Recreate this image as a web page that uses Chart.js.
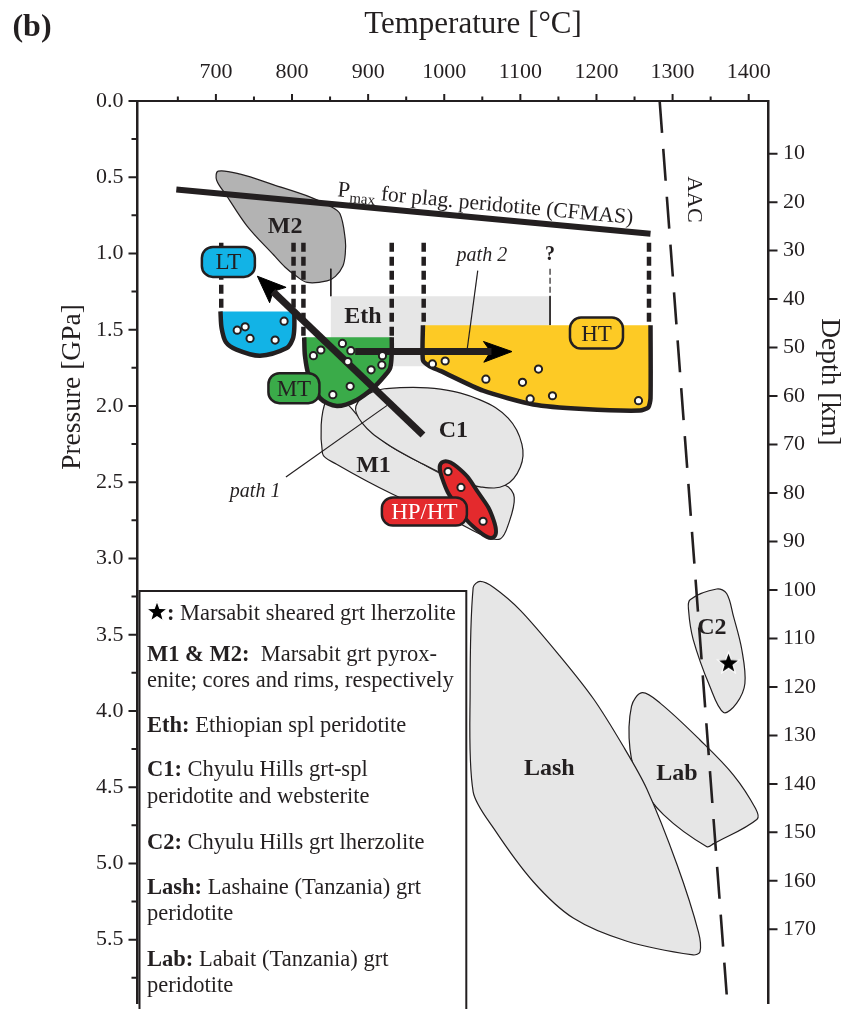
<!DOCTYPE html>
<html>
<head>
<meta charset="utf-8">
<script src="https://cdn.jsdelivr.net/npm/chart.js@4.4.1/dist/chart.umd.min.js"></script>
<style>
html, body { margin: 0; padding: 0; background: #fff; }
canvas { display: block; }
</style>
</head>
<body>
<canvas id="pt" width="847" height="1009"></canvas>
<script>
// axis ticks
const tempTicks = [700, 800, 900, 1000, 1100, 1200, 1300, 1400];
const tempMinor = [650, 750, 850, 950, 1050, 1150, 1250, 1350];
const pressureTicks = [0, 0.5, 1, 1.5, 2, 2.5, 3, 3.5, 4, 4.5, 5, 5.5];
const pressureMinor = [0.25, 0.75, 1.25, 1.75, 2.25, 2.75, 3.25, 3.75, 4.25, 4.75, 5.25, 5.75];
const depthTicks = [10, 20, 30, 40, 50, 60, 70, 80, 90, 100, 110, 120, 130, 140, 150, 160, 170];

// fields, [T degC, P GPa]
const m2Field = [[703,0.46],[732,0.48],[776,0.55],[824,0.63],[850,0.69],[863,0.74],[870,0.91],[870,1.00],[867,1.08],[857,1.15],[846,1.18],[820,1.19],[806,1.15],[791,1.09],[776,1.01],[741,0.82],[714,0.62],[701,0.52]];
const ethField = [[851,1.28],[1139,1.28],[1139,1.74],[851,1.74]];
const ltField = [[706,1.38],[707.5,1.49],[713,1.58],[727,1.63],[758,1.67],[793,1.62],[801,1.56],[803,1.49],[803,1.38]];
const mtField = [[816,1.55],[817,1.67],[822,1.80],[837,1.95],[859,2.00],[885,1.96],[907,1.88],[922,1.80],[929,1.75],[931,1.65],[931,1.55]];
const htField = [[972,1.47],[972,1.70],[981,1.74],[995,1.77],[1051,1.90],[1117,1.99],[1183,2.02],[1257,2.03],[1268,2.01],[1271,1.95],[1271,1.47]];
const c1Field = [[884,2.00],[905,1.91],[942,1.88],[995,1.89],[1047,1.96],[1084,2.08],[1102,2.25],[1100,2.40],[1080,2.52],[1047,2.53],[1014,2.48],[968,2.37],[922,2.24],[892,2.11]];
const m1Field = [[845,1.96],[840,2.31],[858,2.38],[933,2.58],[1008,2.74],[1056,2.86],[1074,2.87],[1084,2.78],[1092,2.60],[1080,2.52],[1014,2.48],[968,2.37],[922,2.24],[889,2.08],[870,1.98]];
const hpField = [[1065,2.86],[1045,2.82],[1017,2.66],[997,2.47],[997,2.37],[1017,2.40],[1045,2.57],[1065,2.75]];
const lashField = [[1047,3.15],[1038,3.19],[1034,3.86],[1038,4.53],[1065,4.77],[1117,5.12],[1170,5.36],[1240,5.51],[1327,5.60],[1336,5.58],[1334,5.45],[1306,5.01],[1266,4.51],[1235,4.23],[1196,3.92],[1152,3.64],[1100,3.34],[1065,3.19]];
const labField = [[1260,3.88],[1246,3.97],[1244,4.25],[1257,4.47],[1288,4.68],[1345,4.89],[1354,4.87],[1411,4.71],[1409,4.64],[1380,4.42],[1336,4.19],[1284,3.95]];
const c2Field = [[1358,3.20],[1323,3.27],[1321,3.34],[1327,3.53],[1349,3.84],[1367,4.01],[1384,3.95],[1395,3.82],[1391,3.60],[1380,3.38],[1371,3.23]];

// lines
const pmaxLine = [[648,0.58],[1271,0.87]];
const aacLine = [[1283,0],[1372,5.92]];
const ltLimits = [[[707,0.93],[707,1.38]], [[802,0.93],[802,1.38]]];
const mtLimits = [[[815,0.93],[815,1.55]], [[931,0.93],[931,1.55]]];
const htLimits = [[[973,0.93],[973,1.47]], [[1269,0.93],[1269,1.47]]];
const ethEdge = [[851,1.10],[851,1.28]];
const ethQuery = [[1139,1.10],[1139,1.28]];
const ethQueryLow = [[1139,1.28],[1139,1.47]];
const path1Shaft = [[972,2.19],[775,1.25]];
const path1Head = [[754.5,1.149],[770.6,1.323],[775.2,1.248],[792.2,1.222]];
const path2Shaft = [[883,1.643],[1062,1.643]];
const path2Head = [[1089,1.643],[1052,1.713],[1061,1.643],[1051.5,1.577]];
const path1Leader = [[792,2.465],[925,1.996]];
const path2Leader = [[1044,1.112],[1030,1.633]];

// samples
const ltSamples = [[728,1.503],[738.4,1.481],[744.9,1.557],[777.8,1.568],[789.6,1.444]];
const mtSamples = [[866.2,1.590],[877.3,1.637],[837.9,1.633],[828.1,1.670],[873.3,1.709],[918.8,1.670],[918,1.731],[903.9,1.763],[876.4,1.871],[853.6,1.926]];
const htSamples = [[984.5,1.724],[1001.2,1.705],[1054.7,1.824],[1102.8,1.845],[1123.8,1.758],[1112.9,1.954],[1142.2,1.933],[1255.2,1.965]];
const hpSamples = [[1005,2.43],[1022,2.534],[1051,2.756]];
const shearedSample = [[1373.5,3.681]];

const INK = '#231f20';
const SERIF = "'Liberation Serif', 'Times New Roman', serif";
const LIGHT = '#e6e6e6';
const BLUE = '#12b3e6';
const GREEN = '#3aab49';
const YELLOW = '#fdca25';
const RED = '#e42a2d';

function xy(arr) {
    return arr.map(p => ({x: p[0], y: p[1]}));
}

function line(arr, opts) {
    return Object.assign({
        data: xy(arr), showLine: true, fill: false, pointRadius: 0,
        borderColor: INK, borderWidth: 1.2, tension: 0, borderJoinStyle: 'round'
    }, opts);
}

function field(arr, color, opts) {
    return line(arr, Object.assign({fill: 'shape', backgroundColor: color, closed: true, tension: 0.35}, opts));
}

function samples(arr, order) {
    return {
        data: xy(arr), showLine: false, pointRadius: 3.6, pointBorderWidth: 2,
        pointBackgroundColor: '#fff', pointBorderColor: INK, order: order
    };
}

function starImage(r) {
    const c = document.createElement('canvas');
    const s = Math.ceil(r * 2 + 4);
    c.width = s; c.height = s;
    const g = c.getContext('2d');
    g.translate(s / 2, s / 2 + r * 0.1);
    g.beginPath();
    for (let i = 0; i < 10; i++) {
        const a = -Math.PI / 2 + i * Math.PI / 5;
        const rr = i % 2 ? r * 0.42 : r;
        g.lineTo(rr * Math.cos(a), rr * Math.sin(a));
    }
    g.closePath();
    g.fillStyle = '#000';
    g.fill();
    g.lineWidth = 1.2;
    g.strokeStyle = '#fff';
    g.stroke();
    return c;
}
const STAR = starImage(11.5);
const LEGEND_STAR = starImage(11);

const datasets = [
    field(ethField, LIGHT, {borderWidth: 0, tension: 0, order: 20}),
    field(lashField, LIGHT, {order: 19, tension: 0.3}),
    field(labField, LIGHT, {order: 19}),
    field(c2Field, LIGHT, {order: 19}),
    field(m1Field, LIGHT, {order: 18}),
    field(c1Field, LIGHT, {order: 17, tension: 0.4}),
    field(m2Field, '#b3b3b3', {order: 16}),
    line(pmaxLine, {borderWidth: 6, order: 15}),
    line(ethEdge, {borderWidth: 1, order: 14}),
    line(ethQuery, {borderWidth: 1.2, borderDash: [6, 3], order: 14}),
    line(ethQueryLow, {borderWidth: 1, order: 14}),
    ...ltLimits.concat(mtLimits, htLimits).map(l => line(l, {borderWidth: 4.5, borderDash: [9, 5], order: 13})),
    line(aacLine, {borderWidth: 2.6, borderDash: [32, 16], order: 12}),
    field(ltField, BLUE, {closed: false, borderWidth: 4.5, tension: 0.3, order: 11}),
    field(mtField, GREEN, {closed: false, borderWidth: 4.5, tension: 0.3, order: 11}),
    field(htField, YELLOW, {closed: false, borderWidth: 4.5, tension: 0.2, order: 11}),
    line(path1Leader, {borderWidth: 1.2, order: 10}),
    line(path2Leader, {borderWidth: 1.2, order: 10}),
    line(path1Shaft, {borderWidth: 7, order: 9}),
    line(path2Shaft, {borderWidth: 7, order: 9}),
    field(path1Head, '#000', {borderColor: '#000', borderWidth: 1, tension: 0, order: 9}),
    field(path2Head, '#000', {borderColor: '#000', borderWidth: 1, tension: 0, order: 9}),
    field(hpField, RED, {borderWidth: 4, tension: 0.5, order: 8}),
    samples(ltSamples, 7),
    samples(mtSamples, 7),
    samples(htSamples, 7),
    samples(hpSamples, 7),
    {data: xy(shearedSample), showLine: false, pointStyle: STAR, order: 6}
];

// closed outlines are drawn as loops so the curve has no seam
const loopPlugin = {
    id: 'loop',
    afterDatasetUpdate(chart, args) {
        const ds = chart.data.datasets[args.index];
        if (ds.closed && args.meta.dataset) {
            args.meta.dataset._loop = true;
            args.meta.dataset._fullLoop = true;
        }
    }
};

const fieldLabels = [
    {text: 'M2', x: 791, y: 0.814, font: 'bold 24px'},
    {text: 'Eth', x: 893, y: 1.405, font: 'bold 24px'},
    {text: 'C1', x: 1012, y: 2.154, font: 'bold 24px'},
    {text: 'M1', x: 907, y: 2.382, font: 'bold 24px'},
    {text: 'Lash', x: 1138, y: 4.369, font: 'bold 24px'},
    {text: 'Lab', x: 1305.6, y: 4.402, font: 'bold 24px'},
    {text: 'C2', x: 1351.7, y: 3.446, font: 'bold 24px'},
    {text: 'path 1', x: 751.5, y: 2.554, font: 'italic 20px'},
    {text: 'path 2', x: 1049.4, y: 1.003, font: 'italic 20px'},
    {text: '?', x: 1139, y: 1.0, font: 'bold 20px'}
];
const tags = [
    {text: 'LT', x: 716.4, y: 1.055, w: 53, h: 30, fill: BLUE, color: INK},
    {text: 'MT', x: 802.5, y: 1.883, w: 51, h: 30, fill: GREEN, color: INK},
    {text: 'HT', x: 1200, y: 1.522, w: 53, h: 31, fill: YELLOW, color: INK},
    {text: 'HP/HT', x: 973.9, y: 2.692, w: 85, h: 28, fill: RED, color: '#fff'}
];
const legendRows = [
    {y: 612, parts: [['star'], ['b', ': '], ['r', 'Marsabit sheared grt lherzolite']]},
    {y: 653, parts: [['b', 'M1 & M2:  '], ['r', 'Marsabit grt pyrox-']]},
    {y: 679, parts: [['r', 'enite; cores and rims, respectively']]},
    {y: 724, parts: [['b', 'Eth: '], ['r', 'Ethiopian spl peridotite']]},
    {y: 768, parts: [['b', 'C1: '], ['r', 'Chyulu Hills grt-spl']]},
    {y: 795, parts: [['r', 'peridotite and websterite']]},
    {y: 841, parts: [['b', 'C2: '], ['r', 'Chyulu Hills grt lherzolite']]},
    {y: 886, parts: [['b', 'Lash: '], ['r', 'Lashaine (Tanzania) grt']]},
    {y: 912, parts: [['r', 'peridotite']]},
    {y: 958, parts: [['b', 'Lab: '], ['r', 'Labait (Tanzania) grt']]},
    {y: 984, parts: [['r', 'peridotite']]}
];

function roundRect(ctx, x, y, w, h, r) {
    ctx.beginPath();
    ctx.moveTo(x + r, y);
    ctx.arcTo(x + w, y, x + w, y + h, r);
    ctx.arcTo(x + w, y + h, x, y + h, r);
    ctx.arcTo(x, y + h, x, y, r);
    ctx.arcTo(x, y, x + w, y, r);
    ctx.closePath();
}

function centred(ctx, text, x, y, size) {
    ctx.textAlign = 'center';
    ctx.textBaseline = 'alphabetic';
    ctx.fillText(text, x, y + size * 0.33);
}

const decor = {
    id: 'decor',
    afterDatasetsDraw(chart) {
        const ctx = chart.ctx;
        const X = v => chart.scales.x.getPixelForValue(v);
        const Y = v => chart.scales.y.getPixelForValue(v);
        ctx.save();
        ctx.fillStyle = INK;

        // Pmax label along the line
        const a = pmaxLine[0], b = pmaxLine[1];
        const ang = Math.atan2(Y(b[1]) - Y(a[1]), X(b[0]) - X(a[0]));
        ctx.save();
        ctx.translate(X(859), Y(0.625));
        ctx.rotate(ang);
        ctx.textAlign = 'left';
        ctx.textBaseline = 'alphabetic';
        ctx.font = '22.5px ' + SERIF;
        ctx.fillText('P', 0, 0);
        let w = ctx.measureText('P').width;
        ctx.font = '15px ' + SERIF;
        ctx.fillText('max', w, 5);
        w += ctx.measureText('max').width;
        ctx.font = '21.5px ' + SERIF;
        ctx.fillText(' for plag. peridotite (CFMAS)', w, 0);
        ctx.restore();

        // AAC
        ctx.save();
        ctx.translate(X(1329.7), Y(0.645));
        ctx.rotate(Math.PI / 2);
        ctx.font = '22px ' + SERIF;
        centred(ctx, 'AAC', 0, 0, 22);
        ctx.restore();

        fieldLabels.forEach(l => {
            ctx.font = l.font + ' ' + SERIF;
            centred(ctx, l.text, X(l.x), Y(l.y), parseFloat(l.font.split(' ')[1]));
        });

        tags.forEach(t => {
            const cx = X(t.x), cy = Y(t.y);
            roundRect(ctx, cx - t.w / 2, cy - t.h / 2, t.w, t.h, 11);
            ctx.fillStyle = t.fill;
            ctx.fill();
            ctx.lineWidth = 2.5;
            ctx.strokeStyle = INK;
            ctx.stroke();
            ctx.fillStyle = t.color;
            ctx.font = '23px ' + SERIF;
            centred(ctx, t.text, cx, cy, 23);
        });
        ctx.restore();
    },
    afterDraw(chart) {
        const ctx = chart.ctx;
        const area = chart.chartArea;
        const sx = chart.scales.x, sy = chart.scales.y, sd = chart.scales.y2;
        ctx.save();
        ctx.strokeStyle = INK;
        ctx.fillStyle = INK;
        ctx.lineWidth = 2;

        // tick marks
        ctx.beginPath();
        tempTicks.forEach(v => { const p = sx.getPixelForValue(v); ctx.moveTo(p, area.top); ctx.lineTo(p, area.top - 7); });
        tempMinor.forEach(v => { const p = sx.getPixelForValue(v); ctx.moveTo(p, area.top); ctx.lineTo(p, area.top - 4.5); });
        pressureTicks.forEach(v => { const p = sy.getPixelForValue(v); ctx.moveTo(area.left, p); ctx.lineTo(area.left - 9, p); });
        pressureMinor.forEach(v => { const p = sy.getPixelForValue(v); ctx.moveTo(area.left, p); ctx.lineTo(area.left - 6, p); });
        depthTicks.forEach(v => { const p = sd.getPixelForValue(v); ctx.moveTo(area.right, p); ctx.lineTo(area.right + 9, p); });
        ctx.stroke();

        // titles
        ctx.font = '31px ' + SERIF;
        centred(ctx, 'Temperature [°C]', 473, 23, 31);
        ctx.font = 'bold 32px ' + SERIF;
        centred(ctx, '(b)', 32, 25, 32);
        ctx.save();
        ctx.translate(71, 387);
        ctx.rotate(-Math.PI / 2);
        ctx.font = '27.5px ' + SERIF;
        centred(ctx, 'Pressure [GPa]', 0, 0, 27.5);
        ctx.restore();
        ctx.save();
        ctx.translate(831, 382);
        ctx.rotate(Math.PI / 2);
        ctx.font = '27.5px ' + SERIF;
        centred(ctx, 'Depth [km]', 0, 0, 27.5);
        ctx.restore();

        // legend box
        const left = area.left + 2;
        ctx.fillStyle = '#fff';
        ctx.fillRect(left, 591, 466.3 - left, 430);
        ctx.lineWidth = 2;
        ctx.strokeRect(left, 591, 466.3 - left, 430);
        ctx.fillStyle = INK;
        ctx.textAlign = 'left';
        ctx.textBaseline = 'alphabetic';
        legendRows.forEach(row => {
            let x = 147;
            row.parts.forEach(p => {
                if (p[0] === 'star') {
                    ctx.drawImage(LEGEND_STAR, x - 3, row.y - LEGEND_STAR.height / 2 - 1);
                    x += 20;
                    return;
                }
                ctx.font = (p[0] === 'b' ? 'bold ' : '') + '22.5px ' + SERIF;
                ctx.fillText(p[1], x, row.y + 7.5);
                x += ctx.measureText(p[1]).width;
            });
        });
        ctx.restore();
    }
};

const tickFont = {family: SERIF, size: 22};

new Chart(document.getElementById('pt'), {
    type: 'scatter',
    data: {datasets: datasets},
    options: {
        responsive: false,
        animation: false,
        devicePixelRatio: 1,
        events: [],
        layout: {padding: 0},
        plugins: {legend: {display: false}, tooltip: {enabled: false}},
        scales: {
            x: {
                type: 'linear', position: 'top', min: 597, max: 1426,
                afterBuildTicks: s => { s.ticks = tempTicks.map(v => ({value: v})); },
                afterFit: s => { s.height = 101; s.paddingLeft = 0; s.paddingRight = 0; },
                ticks: {font: tickFont, color: INK, padding: 16, maxRotation: 0, autoSkip: false, callback: v => String(v)},
                grid: {drawOnChartArea: false, drawTicks: false},
                border: {color: INK, width: 2}
            },
            y: {
                type: 'linear', position: 'left', reverse: true, min: 0, max: 5.915,
                afterBuildTicks: s => { s.ticks = pressureTicks.map(v => ({value: v})); },
                afterFit: s => { s.width = 137.5; s.paddingTop = 0; s.paddingBottom = 0; },
                ticks: {font: tickFont, color: INK, padding: 14, autoSkip: false, callback: v => v.toFixed(1)},
                grid: {drawOnChartArea: false, drawTicks: false},
                border: {color: INK, width: 2.5}
            },
            y2: {
                type: 'linear', position: 'right', reverse: true, min: -0.86, max: 185.2,
                afterBuildTicks: s => { s.ticks = depthTicks.map(v => ({value: v})); },
                afterFit: s => { s.width = 78.5; s.paddingTop = 0; s.paddingBottom = 0; },
                ticks: {font: tickFont, color: INK, padding: 14.5, autoSkip: false, callback: v => String(v)},
                grid: {drawOnChartArea: false, drawTicks: false},
                border: {color: INK, width: 2.5}
            }
        }
    },
    plugins: [loopPlugin, decor]
});
</script>
</body>
</html>
